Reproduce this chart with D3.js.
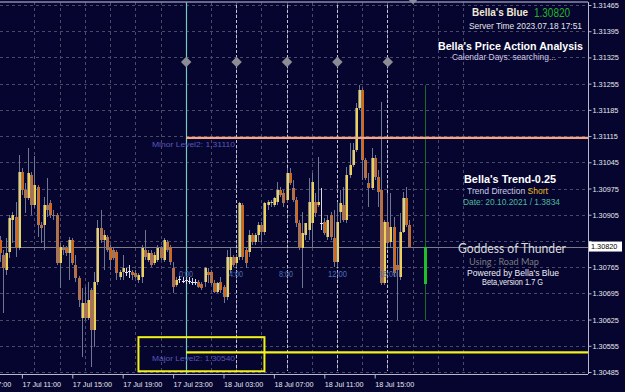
<!DOCTYPE html>
<html><head><meta charset="utf-8">
<script src="https://cdn.jsdelivr.net/npm/d3@7"></script>
<style>html,body{margin:0;padding:0;background:#05052f;overflow:hidden}svg{display:block}</style>
</head><body>
<svg id="c" width="625" height="392"></svg>
<script>
// ---------- DATA (M15 candles, 17 Jul 09:15 -> 18 Jul 17:45) ----------
const startTime = "2023-07-17T09:15:00Z";
const barMinutes = 15;
const open = [1.30837,1.30797,1.30757,1.30805,1.30891,1.30899,1.30816,1.31019,1.30971,1.30949,1.31011,1.30931,1.30979,1.30877,1.30877,1.30931,1.30936,1.30904,1.30904,1.30776,1.30816,1.30816,1.30802,1.30837,1.30770,1.30736,1.30629,1.30669,1.30629,1.30704,1.30597,1.30725,1.30869,1.30837,1.30845,1.30816,1.30810,1.30805,1.30738,1.30752,1.30752,1.30752,1.30752,1.30749,1.30730,1.30738,1.30810,1.30784,1.30802,1.30776,1.30784,1.30816,1.30784,1.30832,1.30819,1.30762,1.30717,1.30733,1.30730,1.30728,1.30730,1.30725,1.30725,1.30725,1.30720,1.30725,1.30752,1.30752,1.30722,1.30698,1.30725,1.30712,1.30685,1.30757,1.30792,1.30776,1.30792,1.30931,1.30810,1.30805,1.30851,1.30832,1.30851,1.30877,1.30859,1.30931,1.30936,1.30931,1.30939,1.30971,1.30963,1.30944,1.31016,1.30976,1.30944,1.30883,1.30816,1.30851,1.30864,1.30883,1.30939,1.30931,1.30883,1.30885,1.30845,1.30904,1.30843,1.30778,1.30912,1.30931,1.30891,1.31011,1.31037,1.31077,1.31190,1.31238,1.31051,1.30989,1.30976,1.31056,1.31005,1.30971,1.30722,1.30885,1.30832,1.30872,1.30770,1.30738,1.30859,1.30949,1.30877];
const high = [1.30848,1.30810,1.30843,1.30904,1.30912,1.30939,1.31064,1.31029,1.30989,1.31083,1.31019,1.31061,1.30984,1.30885,1.30952,1.31003,1.30944,1.30917,1.30909,1.30829,1.30824,1.30821,1.30845,1.30843,1.30797,1.30741,1.30709,1.30712,1.30725,1.30709,1.30752,1.30891,1.30917,1.30864,1.30851,1.30824,1.30816,1.30810,1.30757,1.30797,1.30762,1.30770,1.30757,1.30757,1.30749,1.30824,1.30864,1.30810,1.30810,1.30805,1.30824,1.30821,1.30843,1.30837,1.30824,1.30778,1.30738,1.30741,1.30738,1.30738,1.30738,1.30736,1.30733,1.30730,1.30725,1.30765,1.30762,1.30757,1.30730,1.30725,1.30738,1.30717,1.30810,1.30816,1.30797,1.30797,1.30939,1.30936,1.30816,1.30864,1.30856,1.30856,1.30885,1.30885,1.30939,1.30944,1.30944,1.30952,1.30992,1.30979,1.30971,1.31029,1.31029,1.30997,1.30952,1.30891,1.30912,1.30877,1.31003,1.31016,1.30963,1.31059,1.30976,1.30896,1.30904,1.30912,1.30917,1.30939,1.30971,1.30979,1.31032,1.31096,1.31096,1.31203,1.31251,1.31243,1.31056,1.31016,1.31083,1.31064,1.31024,1.31206,1.30891,1.30963,1.30963,1.30899,1.30819,1.30909,1.30965,1.30979,1.30891];
const low = [1.30778,1.30642,1.30744,1.30789,1.30829,1.30792,1.30810,1.30957,1.30909,1.30944,1.30904,1.30923,1.30845,1.30829,1.30810,1.30899,1.30896,1.30891,1.30770,1.30709,1.30797,1.30794,1.30730,1.30770,1.30725,1.30658,1.30525,1.30624,1.30624,1.30498,1.30552,1.30717,1.30829,1.30757,1.30805,1.30757,1.30784,1.30730,1.30730,1.30730,1.30741,1.30736,1.30730,1.30736,1.30722,1.30722,1.30784,1.30778,1.30765,1.30770,1.30778,1.30784,1.30778,1.30805,1.30770,1.30696,1.30712,1.30722,1.30722,1.30720,1.30720,1.30717,1.30717,1.30709,1.30704,1.30712,1.30722,1.30717,1.30696,1.30696,1.30696,1.30669,1.30677,1.30749,1.30765,1.30765,1.30784,1.30784,1.30762,1.30792,1.30824,1.30824,1.30832,1.30832,1.30851,1.30917,1.30925,1.30925,1.30931,1.30952,1.30925,1.30936,1.30984,1.30939,1.30872,1.30810,1.30709,1.30837,1.30837,1.30819,1.30899,1.30925,1.30864,1.30851,1.30837,1.30837,1.30765,1.30765,1.30883,1.30885,1.30883,1.31003,1.31032,1.31072,1.31184,1.30997,1.30997,1.30925,1.30971,1.30997,1.30925,1.30717,1.30717,1.30819,1.30819,1.30738,1.30624,1.30730,1.30856,1.30872,1.30816];
const close = [1.30802,1.30762,1.30802,1.30896,1.30904,1.30816,1.31019,1.30971,1.30949,1.31016,1.30931,1.30984,1.30877,1.30869,1.30931,1.30917,1.30904,1.30901,1.30776,1.30819,1.30810,1.30802,1.30837,1.30776,1.30736,1.30677,1.30669,1.30629,1.30677,1.30597,1.30725,1.30869,1.30837,1.30851,1.30810,1.30784,1.30789,1.30749,1.30752,1.30762,1.30752,1.30754,1.30744,1.30738,1.30744,1.30816,1.30792,1.30802,1.30770,1.30797,1.30816,1.30789,1.30837,1.30810,1.30778,1.30712,1.30730,1.30733,1.30728,1.30730,1.30728,1.30725,1.30725,1.30712,1.30709,1.30762,1.30744,1.30722,1.30698,1.30722,1.30704,1.30685,1.30792,1.30792,1.30770,1.30792,1.30936,1.30792,1.30776,1.30851,1.30832,1.30851,1.30877,1.30859,1.30936,1.30939,1.30939,1.30949,1.30971,1.30957,1.30936,1.31016,1.30989,1.30944,1.30883,1.30816,1.30856,1.30883,1.30939,1.30992,1.30909,1.30939,1.30883,1.30856,1.30891,1.30845,1.30778,1.30885,1.30936,1.30891,1.31011,1.31037,1.31077,1.31190,1.31238,1.31051,1.31003,1.30976,1.31056,1.31005,1.30965,1.30722,1.30885,1.30829,1.30872,1.30749,1.30757,1.30859,1.30949,1.30877,1.30819];

const priceTicks = [1.31465,1.31395,1.31325,1.31255,1.31185,1.31115,1.31045,1.30975,1.30905,1.30835,1.30765,1.30695,1.30625,1.30555,1.30485];
const timeLabelTicks = ["2023-07-17T07:00:00Z","2023-07-17T11:00:00Z","2023-07-17T15:00:00Z","2023-07-17T19:00:00Z","2023-07-17T23:00:00Z","2023-07-18T03:00:00Z","2023-07-18T07:00:00Z","2023-07-18T11:00:00Z","2023-07-18T15:00:00Z"];
const sessionLines = ["2023-07-18T04:00:00Z","2023-07-18T08:00:00Z","2023-07-18T12:00:00Z","2023-07-18T16:00:00Z"];
const sessionLabels = ["0:00","4:00","8:00","12:00","16:00"];
const dayStart = "2023-07-18T00:00:00Z";
const diamondTimes = ["2023-07-18T00:00:00Z","2023-07-18T04:00:00Z","2023-07-18T08:00:00Z","2023-07-18T12:00:00Z","2023-07-18T16:00:00Z","2023-07-18T18:00:00Z"];
const diamondPrices = [1.31313,1.31313,1.31313,1.31313,1.31313,1.31481];
const currentPrice = 1.30820;
const minorLevel = 1.31110, majorLevel = 1.30540;
const zoneTimes = ["2023-07-17T20:15:00Z","2023-07-18T06:15:00Z"];
const zonePrices = [1.30578,1.30487];
const projTime = "2023-07-18T19:00:00Z";
const projOHLC = [1.30819,1.31251,1.30624,1.30720];

// ---------- SCALES ----------
const W = 625, H = 392, axisX = 588, axisY = 374;
const x = d3.scaleUtc().domain([new Date("2023-07-18T00:00:00Z"), new Date("2023-07-18T16:00:00Z")]).range([185.7, 387.3]);
const y = d3.scaleLinear().domain([1.30485, 1.31465]).range([372, 5]);
const t0 = new Date(startTime).getTime();
const bars = open.map((o,i)=>({t:new Date(t0 + i*barMinutes*60000), o, h:high[i], l:low[i], c:close[i]}));

const svg = d3.select("#c");
svg.append("rect").attr("width",W).attr("height",H).attr("fill","#05052f");
svg.append("defs").append("clipPath").attr("id","plot").append("rect").attr("x",0).attr("y",0).attr("width",axisX).attr("height",axisY);
const plot = svg.append("g").attr("clip-path","url(#plot)");

// grid
const gridColor = "#4a4a68";
plot.append("g").selectAll("line").data(priceTicks).join("line")
  .attr("x1",0).attr("x2",axisX).attr("y1",d=>Math.round(y(d))+0.5).attr("y2",d=>Math.round(y(d))+0.5)
  .attr("stroke",gridColor).attr("stroke-dasharray","3,3");
const vgrid = d3.utcHour.every(2).range(new Date("2023-07-17T11:00:00Z"), new Date("2023-07-19T00:00:00Z"));
plot.append("g").selectAll("line").data(vgrid).join("line")
  .attr("x1",d=>Math.round(x(d))+0.5).attr("x2",d=>Math.round(x(d))+0.5).attr("y1",2).attr("y2",axisY)
  .attr("stroke",gridColor).attr("stroke-dasharray","3,3");

// current price line
plot.append("line").attr("x1",0).attr("x2",axisX).attr("y1",Math.round(y(currentPrice))+0.5).attr("y2",Math.round(y(currentPrice))+0.5).attr("stroke","#7c7c84").attr("stroke-width",1);

// session lines
plot.append("g").selectAll("line").data(sessionLines.map(d=>new Date(d))).join("line")
  .attr("x1",d=>Math.round(x(d))+0.5).attr("x2",d=>Math.round(x(d))+0.5).attr("y1",5).attr("y2",371)
  .attr("stroke","#c4c4d4").attr("stroke-dasharray","3,2");
plot.append("line").attr("x1",Math.round(x(new Date(dayStart)))+0.5).attr("x2",Math.round(x(new Date(dayStart)))+0.5)
  .attr("y1",2).attr("y2",axisY).attr("stroke","#74cbb8").attr("stroke-width",1.2);

// candles
const cg = plot.append("g");
bars.forEach(b=>{
  const px0 = Math.round(x(b.t));
  const cx = px0 + 0.5;
  const doji = Math.abs(b.o-b.c) < 0.000025;
  const up = b.c > b.o;
  cg.append("line").attr("x1",cx).attr("x2",cx).attr("y1",Math.round(y(b.h))).attr("y2",Math.round(y(b.l)))
    .attr("stroke", doji ? "#d8d8e0" : "#6e7690").attr("stroke-width",1);
  if (doji) {
    cg.append("line").attr("x1",cx-1.5).attr("x2",cx+1.5).attr("y1",Math.round(y(b.c))+0.5).attr("y2",Math.round(y(b.c))+0.5).attr("stroke","#e8e8f0");
  } else {
    const top = Math.round(y(Math.max(b.o,b.c))), bot = Math.round(y(Math.min(b.o,b.c)));
    cg.append("rect").attr("x",px0-1).attr("width",1).attr("y",top).attr("height",Math.max(1,bot-top))
      .attr("fill", "#7a7f94");
    cg.append("rect").attr("x",px0).attr("width",2).attr("y",top).attr("height",Math.max(1,bot-top))
      .attr("fill", up ? "#ecd05a" : "#d2681c");
  }
});

// projection bar
const px = Math.round(x(new Date(projTime)))+0.5;
plot.append("line").attr("x1",px).attr("x2",px).attr("y1",y(projOHLC[1])).attr("y2",y(projOHLC[2])).attr("stroke","#1d6a24");
plot.append("rect").attr("x",px-1.5).attr("width",3).attr("y",y(projOHLC[0])).attr("height",y(projOHLC[3])-y(projOHLC[0])).attr("fill","#1fbf2a");

// levels
const xs = Math.round(x(new Date(dayStart)));
plot.append("line").attr("x1",xs).attr("x2",axisX).attr("y1",y(minorLevel)).attr("y2",y(minorLevel)).attr("stroke","#f6a585").attr("stroke-width",2.2);
plot.append("line").attr("x1",xs).attr("x2",axisX).attr("y1",y(majorLevel)+1).attr("y2",y(majorLevel)+1).attr("stroke","#f2f21a").attr("stroke-width",2.2);
const zx0 = x(new Date(zoneTimes[0])), zx1 = x(new Date(zoneTimes[1]));
plot.append("rect").attr("x",zx0).attr("y",y(zonePrices[0])).attr("width",zx1-zx0).attr("height",y(zonePrices[1])-y(zonePrices[0]))
  .attr("fill","none").attr("stroke","#f2f21a").attr("stroke-width",2);

// diamonds
plot.append("g").selectAll("path").data(diamondTimes.map((d,i)=>({t:new Date(d),p:diamondPrices[i]}))).join("path")
  .attr("d",d3.symbol().type(d3.symbolDiamond2).size(70))
  .attr("transform",d=>`translate(${x(d.t)+0.5},${y(d.p)})`).attr("fill","#8c8c94");

// ---------- TEXT ----------
function label(txt, xPos, yBase, size, color, opts={}) {
  const t = svg.append("text").attr("x",xPos).attr("y",yBase).attr("fill",color)
    .attr("font-family", opts.family || "'Liberation Sans', Arial, sans-serif")
    .attr("font-size", size).attr("font-weight", opts.bold ? "bold" : "normal").text(txt);
  if (opts.width) t.attr("textLength",opts.width).attr("lengthAdjust","spacingAndGlyphs");
  return t;
}
const blue = "#5a58bc";
label("Minor Level2: 1.31110",152,147,8,blue,{width:83});
label("Major Level2: 1.30540",152,361,8,blue,{width:83});
const sessX = [179,229,279,328,379], sessW=[14,14,14,19,18];
sessionLabels.forEach((s,i)=>label(s,sessX[i],277,8.5,"#4d6fb8",{width:sessW[i]}));

label("Bella's Blue",472,16,10,"#f2e8d6",{bold:true,width:56});
label("1.30820",534,17,12,"#26b426",{width:36});
label("Server Time 2023.07.18 17:51",469,29,8.5,"#e4e4ea",{width:113});
label("Bella's Price Action Analysis",438,50,11,"#ffffff",{bold:true,width:145});
label("Calendar Days: searching...",452,60,8.5,"#d4c8e4",{width:104});
label("Bella's Trend-0.25",464,183,11,"#ffffff",{bold:true,width:92});
const td = svg.append("text").attr("x",467).attr("y",194).attr("font-family","'Liberation Sans', Arial, sans-serif").attr("font-size",8.5);
td.append("tspan").attr("fill","#c8c8e0").text("Trend Direction ");
td.append("tspan").attr("fill","#e8b818").text("Short");
td.attr("textLength",81).attr("lengthAdjust","spacingAndGlyphs");
label("Date: 20.10.2021 / 1.3834",463,205,8.5,"#4fb89c",{width:97});
label("Goddess of Thunder",458,253,13.5,"#d8d8dc",{family:"Lato, 'Open Sans', sans-serif",width:108});
label("Using : Road Map",469,265,9.5,"#7c7c80",{family:"Lato, 'Open Sans', sans-serif",width:70});
label("Powered by Bella's Blue",467,276,9,"#eeeef4",{width:92});
label("Beta,version 1.7 G",482,285,8.2,"#eeeef4",{width:61});

// ---------- AXES ----------
const axisColor = "#b8b8c8";
svg.append("line").attr("x1",0).attr("x2",axisX).attr("y1",2).attr("y2",2).attr("stroke","#8a8aae").attr("stroke-width",1.5);
// the tick label under the current-price box is hidden, as in the terminal
const shownTicks = priceTicks.filter(p => Math.abs(y(p) - y(currentPrice)) > 8);
const yAxis = d3.axisRight(y).tickValues(priceTicks).tickFormat(d => shownTicks.includes(d) ? d3.format(".5f")(d) : "").tickSize(3).tickPadding(1);
const gy = svg.append("g").attr("transform",`translate(${axisX+0.5},0)`).call(yAxis);
gy.select(".domain").attr("stroke",axisColor).attr("d",`M0,2V${axisY}`);
gy.selectAll(".tick line").attr("stroke",axisColor);
gy.selectAll("text").attr("fill","#e8e8ee").attr("font-family","'Liberation Sans', Arial, sans-serif").attr("font-size",7.3).attr("dy","0.35em");

const xAxis = d3.axisBottom(x).tickValues(timeLabelTicks.map(d=>new Date(d))).tickFormat(d3.utcFormat("%d %b %H:%M")).tickSize(4).tickPadding(3);
const gx = svg.append("g").attr("transform",`translate(0,${axisY+0.5})`).call(xAxis);
gx.select(".domain").attr("stroke",axisColor).attr("d",`M0,0H${axisX}`);
gx.selectAll(".tick line").attr("stroke",axisColor);
gx.selectAll("text").attr("fill","#e8e8ee").attr("font-family","'Liberation Sans', Arial, sans-serif").attr("font-size",7.2).attr("text-anchor","start").attr("x",0);

// current price box
const cpY = y(currentPrice);
svg.append("rect").attr("x",589).attr("y",cpY-5).attr("width",33).attr("height",10).attr("fill","#ffffff");
svg.append("text").attr("x",591).attr("y",cpY).attr("dy","0.35em").attr("fill","#000").attr("font-family","'Liberation Sans', Arial, sans-serif").attr("font-size",7.3).text(d3.format(".5f")(currentPrice));
</script>
</body></html>
